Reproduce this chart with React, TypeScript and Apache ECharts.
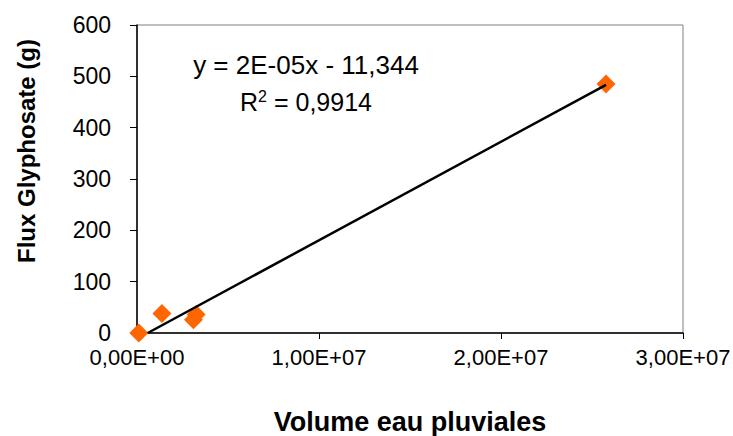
import React, { useEffect, useRef } from "react";
import * as echarts from "echarts";

// Measured points (rain water volume, glyphosate flux)
const volumes: number[] = [1.0e5, 1.37e6, 3.1e6, 3.25e6, 2.577e7];
const fluxes: number[] = [0, 38, 26, 36, 485];

// Trend line (as displayed): y = slope * x + intercept
const trendSlope = 1.92e-5;
const trendIntercept = -11.344;
const trendXRange: number[] = [5.9e5, 2.577e7];

const xTickLabels: string[] = ["0,00E+00", "1,00E+07", "2,00E+07", "3,00E+07"];
const yTicks: number[] = [0, 100, 200, 300, 400, 500, 600];

const equationText = "y = 2E-05x - 11,344";
const r2Value = "0,9914";

const xTitle = "Volume eau pluviales";
const yTitle = "Flux Glyphosate (g)";

const FONT = "'Liberation Sans', Arial, Helvetica, sans-serif";

export default function App() {
  const ref = useRef<HTMLDivElement>(null);

  useEffect(() => {
    if (!ref.current) return;
    const chart = echarts.init(ref.current, undefined, { renderer: "svg" });

    const points = volumes.map((v, i) => [v, fluxes[i]]);
    const trend = trendXRange.map((x) => [x, trendSlope * x + trendIntercept]);

    chart.setOption({
      animation: false,
      backgroundColor: "#ffffff",
      grid: {
        left: 137,
        right: 50,
        top: 25,
        bottom: 103,
        show: true,
        borderColor: "#808080",
        borderWidth: 1,
        backgroundColor: "transparent",
        containLabel: false,
        outerBoundsMode: "none",
      },
      xAxis: {
        type: "value",
        min: 0,
        max: 3e7,
        interval: 1e7,
        name: xTitle,
        nameLocation: "middle",
        nameGap: 75,
        nameTextStyle: {
          fontFamily: FONT,
          fontSize: 27,
          fontWeight: "bold",
          color: "#000",
        },
        axisLine: { show: true, onZero: false, lineStyle: { color: "#000", width: 1.5 } },
        axisTick: { show: true, inside: false, length: 6, lineStyle: { color: "#000", width: 1 } },
        axisLabel: {
          margin: 13,
          fontFamily: FONT,
          fontSize: 22,
          color: "#000",
          formatter: (v: number) => xTickLabels[Math.round(v / 1e7)] ?? "",
        },
        splitLine: { show: false },
      },
      yAxis: {
        type: "value",
        min: yTicks[0],
        max: yTicks[yTicks.length - 1],
        interval: 100,
        axisLine: { show: true, onZero: false, lineStyle: { color: "#000", width: 1.5 } },
        axisTick: { show: true, inside: false, length: 7, lineStyle: { color: "#000", width: 1 } },
        axisLabel: {
          margin: 26,
          fontFamily: FONT,
          fontSize: 23,
          color: "#000",
        },
        splitLine: { show: false },
      },
      graphic: [
        {
          type: "text",
          x: 26,
          y: 151,
          rotation: Math.PI / 2,
          style: {
            text: yTitle,
            fontFamily: FONT,
            fontSize: 24,
            fontWeight: "bold",
            fill: "#000",
            align: "center",
            verticalAlign: "middle",
          },
        },
        {
          type: "text",
          x: 306,
          y: 65,
          style: {
            text: equationText,
            fontFamily: FONT,
            fontSize: 26,
            fill: "#000",
            align: "center",
            verticalAlign: "middle",
          },
        },
        {
          type: "text",
          x: 306,
          y: 102,
          style: {
            text: "{a|R}{s|2}{a| = " + r2Value + "}",
            fontFamily: FONT,
            fontSize: 25,
            fill: "#000",
            align: "center",
            verticalAlign: "middle",
            rich: {
              a: { fontFamily: FONT, fontSize: 25, fill: "#000", verticalAlign: "middle" },
              s: { fontFamily: FONT, fontSize: 16, fill: "#000", verticalAlign: "top", padding: [0, 0, 12, 0] },
            },
          },
        },
      ],
      series: [
        {
          type: "scatter",
          data: points,
          symbol: "diamond",
          symbolSize: 19,
          itemStyle: { color: "#FF6600", opacity: 1 },
          z: 2,
        },
        {
          type: "line",
          data: trend,
          symbol: "none",
          lineStyle: { color: "#000", width: 2.5 },
          z: 3,
        },
      ],
    });

    return () => chart.dispose();
  }, []);

  return (
    <div
      ref={ref}
      style={{ position: "fixed", left: 0, top: 0, width: 733, height: 436, background: "#fff" }}
    />
  );
}
